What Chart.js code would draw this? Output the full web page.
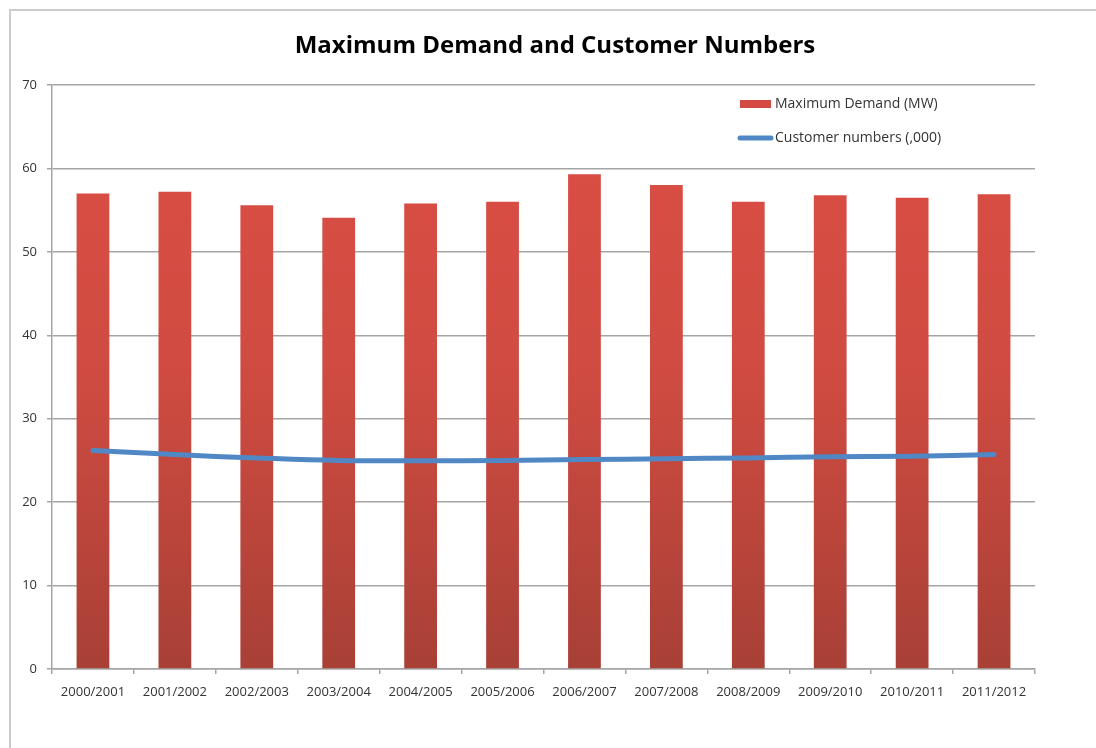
<!DOCTYPE html>
<html>
<head>
<meta charset="utf-8">
<script src="https://cdn.jsdelivr.net/npm/chart.js@4"></script>
<style>
  body { margin: 0; background: #fff; }
  #wrap { position: relative; width: 1096px; height: 748px; overflow: hidden; }
  #frame { position: absolute; left: 9px; top: 9px; width: 1200px; height: 800px;
           border-left: 2px solid #cccccc; border-top: 2px solid #cccccc; }
  #chart { position: absolute; left: 0; top: 0; }
</style>
</head>
<body>
<div id="wrap">
  <div id="frame"></div>
  <canvas id="chart" width="1096" height="748"></canvas>
</div>
<script>
// years on the x axis
var years = ['2000/2001', '2001/2002', '2002/2003', '2003/2004', '2004/2005', '2005/2006',
             '2006/2007', '2007/2008', '2008/2009', '2009/2010', '2010/2011', '2011/2012'];
var maxDemand = [57.0, 57.2, 55.6, 54.1, 55.8, 56.0, 59.3, 58.0, 56.0, 56.8, 56.5, 56.9];
var customers = [26.2, 25.7, 25.3, 25.0, 24.95, 25.0, 25.1, 25.2, 25.3, 25.45, 25.5, 25.7];
var yTicks = [0, 10, 20, 30, 40, 50, 60, 70];

var font = '"Open Sans", sans-serif';

// red bar fill, darker towards the bottom like the original
function barFill(ctx) {
  var area = ctx.chart.chartArea;
  if (!area) return '#d24a40';
  var g = ctx.chart.ctx.createLinearGradient(0, area.top, 0, area.bottom);
  g.addColorStop(0, '#dc4e45');
  g.addColorStop(0.5, '#cf4b41');
  g.addColorStop(1, '#a84036');
  return g;
}

// legend sits inside the plot, top right
var insideLegend = {
  id: 'insideLegend',
  afterLayout: function(chart) {
    // title in the original is centred a bit right of the canvas middle
    chart.titleBlock.left += 75;
  },
  afterDraw: function(chart) {
    var c = chart.ctx, a = chart.chartArea;
    var x = a.right - 295, y = a.top + 19;
    var ds = chart.data.datasets;
    c.save();
    c.font = '14px ' + font;
    c.textBaseline = 'middle';
    // bars
    c.fillStyle = '#d24a40';
    c.fillRect(x, y - 4, 31, 8);
    c.fillStyle = '#333';
    c.fillText(ds[0].label, x + 35, y);
    // line
    c.strokeStyle = ds[1].borderColor;
    c.lineWidth = 5;
    c.lineCap = 'round';
    c.beginPath();
    c.moveTo(x, y + 34);
    c.lineTo(x + 31, y + 34);
    c.stroke();
    c.fillText(ds[1].label, x + 35, y + 34);
    c.restore();
  }
};

new Chart('chart', {
  type: 'bar',
  data: {
    labels: years,
    datasets: [
      {
        label: 'Maximum Demand (MW)',
        data: maxDemand,
        backgroundColor: barFill,
        categoryPercentage: 1,
        barPercentage: 0.4,
        order: 1
      },
      {
        label: 'Customer numbers (,000)',
        type: 'line',
        data: customers,
        borderColor: '#5088c6',
        borderWidth: 5,
        borderCapStyle: 'round',
        tension: 0.4,
        pointRadius: 0,
        order: 0
      }
    ]
  },
  options: {
    responsive: false,
    animation: false,
    layout: { padding: { left: 0, right: 61, top: 0, bottom: 0 } },
    plugins: {
      legend: { display: false },
      tooltip: { enabled: false },
      title: {
        display: true,
        text: 'Maximum Demand and Customer Numbers',
        color: '#000',
        font: { family: font, size: 24, weight: 'bold' },
        padding: { top: 31.6, bottom: 24.6 }
      }
    },
    scales: {
      x: {
        afterFit: function(s) { s.height = 79; },
        grid: { display: true, drawOnChartArea: false, drawTicks: true, tickLength: 5,
                color: '#a5a5a5', lineWidth: 1.5 },
        border: { display: true, color: '#a5a5a5', width: 1.5 },
        ticks: { color: '#333', font: { family: font, size: 13 }, padding: 10, maxRotation: 0 }
      },
      y: {
        min: 0,
        max: 70,
        afterFit: function(s) { s.width = 52; },
        afterBuildTicks: function(s) { s.ticks = yTicks.map(function(v) { return { value: v }; }); },
        grid: { color: '#a5a5a5', lineWidth: 1.5, tickLength: 5 },
        border: { display: true, color: '#a5a5a5', width: 1.5 },
        ticks: { color: '#333', font: { family: font, size: 13 }, padding: 10 }
      }
    }
  },
  plugins: [insideLegend]
});
</script>
</body>
</html>
